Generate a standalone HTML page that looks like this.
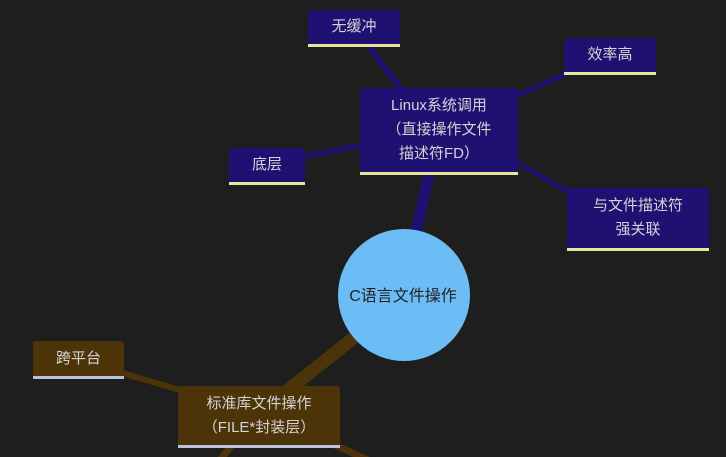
<!DOCTYPE html>
<html><head><meta charset="utf-8"><style>
body{margin:0;width:726px;height:457px;background:#1e1e1e;overflow:hidden;position:relative;font-family:"Liberation Sans","Noto Sans CJK SC",sans-serif}
.n{position:absolute;box-sizing:border-box;color:#d4d4d4;font-size:15px;line-height:24px;text-align:center;display:flex;align-items:center;justify-content:center;border-radius:3px 3px 0 0}
.b{background:#1f1172;border-bottom:3px solid #e6e69a}
.o{background:#4d3308;border-bottom:3px solid #b9c2dc}
svg{position:absolute;left:0;top:0}
</style></head><body>
<svg width="726" height="457">
<g stroke="#1f1172" stroke-linecap="butt">
<line x1="412" y1="250" x2="430" y2="170" stroke-width="11"/>
<line x1="402" y1="90" x2="368" y2="45" stroke-width="6"/>
<line x1="516" y1="96" x2="566" y2="74" stroke-width="5"/>
<line x1="362" y1="145" x2="303" y2="157" stroke-width="5"/>
<line x1="516" y1="162" x2="569" y2="192" stroke-width="5"/>
</g>
<g stroke="#4d3308">
<line x1="370" y1="325" x2="288" y2="390" stroke-width="13"/>
<line x1="180" y1="390" x2="122" y2="373" stroke-width="6"/>
<line x1="232" y1="445" x2="220" y2="460" stroke-width="7"/>
<line x1="335" y1="445" x2="368" y2="460" stroke-width="7"/>
</g>
<circle cx="404" cy="295" r="66" fill="#6cbcf5"/>
<text x="403" y="301" text-anchor="middle" font-size="16" fill="#222" font-family="Liberation Sans,Noto Sans CJK SC,sans-serif">C语言文件操作</text>
</svg>
<div class="n b" style="left:308px;top:10px;width:92px;height:37px">无缓冲</div>
<div class="n b" style="left:360px;top:88px;width:158px;height:87px">Linux系统调用<br>（直接操作文件<br>描述符FD）</div>
<div class="n b" style="left:564px;top:38px;width:92px;height:37px">效率高</div>
<div class="n b" style="left:229px;top:148px;width:76px;height:37px">底层</div>
<div class="n b" style="left:567px;top:188px;width:142px;height:63px">与文件描述符<br>强关联</div>
<div class="n o" style="left:33px;top:341px;width:91px;height:38px">跨平台</div>
<div class="n o" style="left:178px;top:386px;width:162px;height:62px">标准库文件操作<br>（FILE*封装层）</div>
</body></html>
